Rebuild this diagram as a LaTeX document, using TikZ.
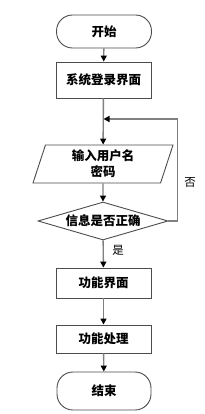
\documentclass[tikz,border=0pt]{standalone}
\usepackage{fontspec}
\newfontfamily\cjk{Noto Sans CJK SC}
\usepackage{tikz}
\usetikzlibrary{arrows.meta,shapes.geometric}

\tikzset{
  box/.style={draw=black!70, line width=0.9pt, fill=white, minimum width=95pt,
    inner sep=0pt, font=\cjk\bfseries\fontsize{12.5}{16}\selectfont},
  terminal/.style={box, rounded corners=16pt},
  flow/.style={draw=black!50, line width=1.4pt, -{Triangle[length=6pt,width=6pt,fill=black,color=black]}},
  tag/.style={font=\cjk\fontsize{11.5}{14}\selectfont}
}

\begin{document}
\begin{tikzpicture}[x=1pt,y=-1pt]

% Frame
\useasboundingbox (0,0) rectangle (204,414);

% Start and login page
\node[terminal, minimum height=33pt] (start) at (104,31.5) {开始};
\node[box, minimum height=36pt] (login) at (103.5,80) {系统登录界面};

% Input of user name and password
\node[box, trapezium, trapezium left angle=66, trapezium right angle=114,
  trapezium stretches body, minimum width=140pt, minimum height=38pt,
  align=center] (input) at (103,164) {输入用户名\\密码};

% Check
\node[box, diamond, aspect=3.42, minimum width=130pt, minimum height=38pt] (check) at (103,221) {信息是否正确};

% Function pages
\node[box, minimum height=30pt] (page) at (103.5,283) {功能界面};
\node[box, minimum height=28pt] (work) at (103.5,339) {功能处理};
\node[terminal, minimum height=38pt, minimum width=94pt] (stop) at (104,391) {结束};

% Connectors
\coordinate (merge) at (103.5,119);
\draw[flow] (start) -- (login);
\draw[flow] (login) -- (input);
\draw[flow] (input) -- (check);
\draw[flow] (check) -- node[tag, right=5pt, pos=0.38] (yes) {是} (page);
\draw[flow] (page) -- (work);
\draw[flow] (work) -- (stop);

% Loop back when wrong
\draw[flow] (check.east) -- ++(9,0) |- (merge);
\node[tag] (no) at (190,182) {否};

\end{tikzpicture}
\end{document}
